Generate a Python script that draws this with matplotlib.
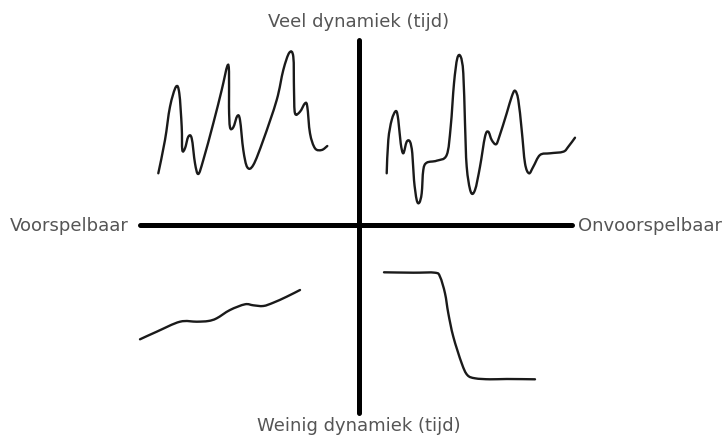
import matplotlib.pyplot as plt
from matplotlib.path import Path
from matplotlib.patches import PathPatch
import numpy as np

# schetsmatige curves, in pixelcoordinaten van het plaatje (y naar beneden)
tl_x = [158.3, 165, 170, 176, 179.3, 181.7, 182.3, 185, 188.3, 191.7, 195, 198.3, 203.3, 213.3,
        221.7, 227.3, 229, 229, 230, 233.3, 237.3, 240, 243.3, 247.3, 253.3, 263.3, 276.7, 283.3,
        289.3, 293.3, 294, 295, 300, 305, 307.3, 310, 315, 321.7, 327.3]
tl_y = [173.3, 140, 106.7, 86.7, 93.3, 126.7, 150, 148.3, 136.7, 138.3, 163.3, 174, 160, 123.3,
        90, 66, 71.7, 106.7, 127.3, 127.3, 116, 120, 150, 167.3, 165, 140, 100, 70,
        52.7, 56.7, 90, 113.3, 111.7, 103.3, 106.7, 133.3, 148.3, 150, 146]

tr_x = [386.7, 388.3, 391.7, 396, 398.3, 400.7, 403.3, 406.7, 410, 412.3, 414, 416.7, 419.3, 421.7,
        423.3, 426.7, 436.7, 446.7, 450.7, 454, 457.3, 460.7, 463.3, 465, 466.7, 470.7, 475, 480,
        485, 488.3, 491.7, 496, 499.3, 506.7, 511.7, 515, 518.3, 521.7, 525, 529, 533.3, 540,
        550, 563.3, 568.3, 575]
tr_y = [173.3, 140, 120, 111, 120, 143.3, 153.3, 141.7, 141.7, 153.3, 180, 200, 202.7, 193.3,
        170, 162.7, 160.7, 155, 126.7, 83.3, 58.3, 56.7, 73.3, 123.3, 166.7, 191.7, 190, 166.7,
        136.7, 131.7, 140, 144.3, 136.7, 113.3, 96.7, 90.7, 100, 130, 163.3, 173.3, 166.7, 155,
        153.3, 151.7, 146.7, 137.7]

bl_x = [140, 156.7, 180, 196.7, 208.3, 216.7, 230, 245, 253.3, 263.3, 273.3, 286.7, 300]
bl_y = [339.3, 331.7, 321.7, 321.7, 321, 318.3, 310, 304.3, 305.3, 306, 302.7, 296.7, 290]

br_x = [384, 413.3, 435, 440, 445, 448.3, 453.3, 461.7, 467.3, 475, 490, 506.7, 535]
br_y = [272.3, 272.7, 272.7, 276.7, 293.3, 313.3, 336.7, 363.3, 375, 378.3, 379.3, 379, 379.3]

labels = ['Veel dynamiek (tijd)', 'Weinig dynamiek (tijd)', 'Voorspelbaar', 'Onvoorspelbaar']


def smooth_path(xs, ys):
    # bezier-segmenten door de punten (catmull-rom stijl), puur voor de tekenstijl
    p = np.column_stack([xs, ys])
    verts = [p[0]]
    codes = [Path.MOVETO]
    for i in range(len(p) - 1):
        p0 = p[max(i - 1, 0)]
        p1 = p[i]
        p2 = p[i + 1]
        p3 = p[min(i + 2, len(p) - 1)]
        c1 = p1 + (p2 - p0) / 6
        c2 = p2 - (p3 - p1) / 6
        verts += [c1, c2, p2]
        codes += [Path.CURVE4] * 3
    return Path(verts, codes)


fig = plt.figure(figsize=(7.25, 4.37), dpi=100)
ax = fig.add_axes([0, 0, 1, 1])
ax.set_xlim(0, 725)
ax.set_ylim(437, 0)
ax.axis('off')

# assen
ax.plot([140, 572], [225, 225], color='black', lw=3.6, solid_capstyle='round')
ax.plot([359, 359], [40, 413], color='black', lw=3.6, solid_capstyle='round')

for xs, ys in [(tl_x, tl_y), (tr_x, tr_y), (bl_x, bl_y), (br_x, br_y)]:
    ax.add_patch(PathPatch(smooth_path(xs, ys), facecolor='none', edgecolor='#1a1a1a',
                           lw=1.7, joinstyle='round', capstyle='round'))

txt = dict(color='#555555', fontsize=13, family='DejaVu Sans')
ax.text(359, 22, labels[0], ha='center', va='center', **txt)
ax.text(359, 426, labels[1], ha='center', va='center', **txt)
ax.text(10, 226, labels[2], ha='left', va='center', **txt)
ax.text(578, 226, labels[3], ha='left', va='center', **txt)

plt.savefig('out.png', dpi=100)
